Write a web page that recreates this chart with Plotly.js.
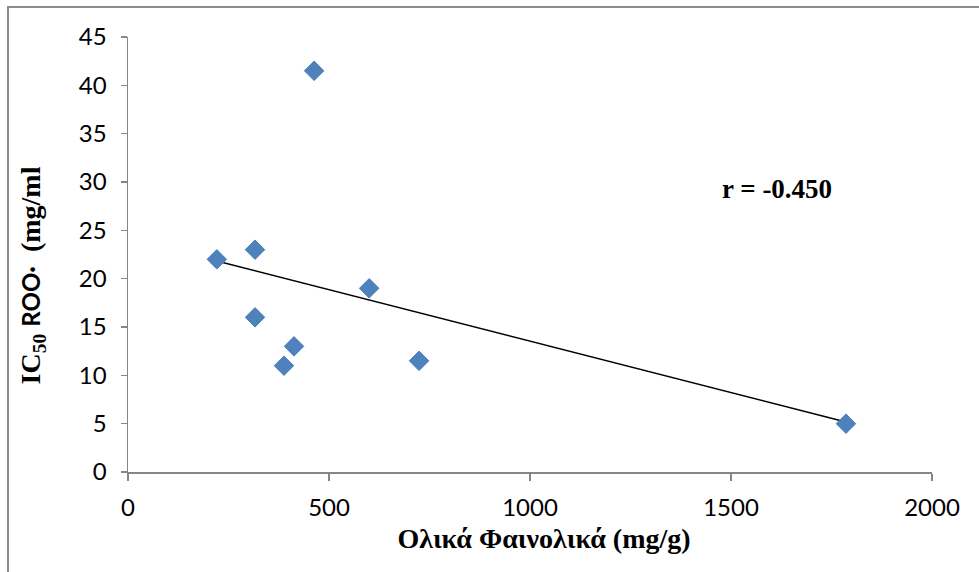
<!DOCTYPE html>
<html>
<head>
<meta charset="utf-8">
<script src="https://cdn.plot.ly/plotly-3.0.1.min.js"></script>
<style>
  html, body { margin: 0; padding: 0; background: #fff; }
  #wrap { position: relative; width: 979px; height: 572px; overflow: hidden; }
  #chart { width: 979px; height: 572px; }
  #frame { position: absolute; left: 7px; top: 6px; width: 980px; height: 580px;
           border-left: 2px solid #8c8c8c; border-top: 2px solid #8c8c8c; pointer-events: none; }
</style>
</head>
<body>
<div id="wrap">
  <div id="chart"></div>
  <div id="frame"></div>
</div>
<script>
// Data
const totalPhenolics = [221, 316, 316, 463, 413, 388, 600, 724, 1786];   // mg/g
const ic50ROO       = [22, 23, 16, 41.5, 13, 11, 19, 11.5, 5];          // mg/ml
const xTicks = [0, 500, 1000, 1500, 2000];
const yTicks = [0, 5, 10, 15, 20, 25, 30, 35, 40, 45];
const rLabel = "r = -0.450";

// Linear least-squares trendline computed from the data
const n = totalPhenolics.length;
const mx = totalPhenolics.reduce((a, b) => a + b, 0) / n;
const my = ic50ROO.reduce((a, b) => a + b, 0) / n;
let sxy = 0, sxx = 0;
for (let i = 0; i < n; i++) {
  sxy += (totalPhenolics[i] - mx) * (ic50ROO[i] - my);
  sxx += (totalPhenolics[i] - mx) ** 2;
}
const slope = sxy / sxx;
const intercept = my - slope * mx;
const xMin = Math.min(...totalPhenolics), xMax = Math.max(...totalPhenolics);
const trendX = [xMin, xMax];
const trendY = trendX.map(x => intercept + slope * x);

const traces = [
  {
    x: trendX, y: trendY, type: 'scatter', mode: 'lines',
    line: { color: '#000000', width: 1.5 }, hoverinfo: 'skip', showlegend: false
  },
  {
    x: totalPhenolics, y: ic50ROO, type: 'scatter', mode: 'markers',
    marker: { symbol: 'diamond', size: 15, color: '#4F81BD', line: { color: '#4A7EBB', width: 1 } },
    showlegend: false
  }
];

const serif = '"Liberation Serif", "Times New Roman", serif';

const layout = {
  width: 979, height: 572,
  margin: { l: 128, r: 47, t: 37, b: 100 },
  paper_bgcolor: '#ffffff', plot_bgcolor: '#ffffff',
  showlegend: false,
  xaxis: {
    range: [0, 2000], tickvals: xTicks, ticktext: xTicks.map(String),
    showgrid: false, zeroline: false, showline: true, linecolor: '#868686', linewidth: 1.5,
    ticks: 'outside', ticklen: 7, tickcolor: '#868686', tickwidth: 1.5,
    ticklabelstandoff: 7,
    tickfont: { family: 'Lato, sans-serif', size: 24, color: '#000000' },
    title: { text: '&nbsp;&nbsp;&nbsp;&nbsp;Ολικά Φαινολικά (mg/g)', standoff: 8,
             font: { family: serif, size: 28, color: '#000000', weight: 'bold' } }
  },
  yaxis: {
    range: [0, 45], tickvals: yTicks, ticktext: yTicks.map(String),
    showgrid: false, zeroline: false, showline: true, linecolor: '#868686', linewidth: 1.5,
    ticks: 'outside', ticklen: 6, tickcolor: '#868686', tickwidth: 1.5,
    ticklabelstandoff: 9,
    tickfont: { family: 'Lato, sans-serif', size: 24, color: '#000000' },
    title: { text: 'IC<sub>50</sub> <span style="font-family:Lato;font-size:24px;font-weight:bold">ROO·</span>&nbsp;&nbsp;(mg/ml&nbsp;&nbsp;&nbsp;&nbsp;&nbsp;&nbsp;', standoff: 30,
             font: { family: serif, size: 28, color: '#000000', weight: 'bold' } }
  },
  annotations: [
    {
      x: 1614, y: 29.3, xref: 'x', yref: 'y', text: rLabel, showarrow: false,
      font: { family: serif, size: 27, color: '#000000', weight: 'bold' }
    }
  ]
};

Plotly.newPlot('chart', traces, layout, { displayModeBar: false, staticPlot: true });
</script>
</body>
</html>
